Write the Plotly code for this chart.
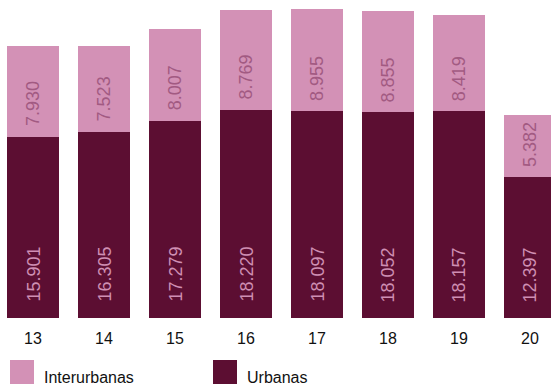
import plotly.graph_objects as go

# Accidentes por año (últimos dos dígitos del año)
anios = ["13", "14", "15", "16", "17", "18", "19", "20"]
urbanas = [15901, 16305, 17279, 18220, 18097, 18052, 18157, 12397]
interurbanas = [7930, 7523, 8007, 8769, 8955, 8855, 8419, 5382]

nombre_urb = "Urbanas"
nombre_inter = "Interurbanas"

COLOR_URB = "#5c0e32"
COLOR_INTER = "#d391b6"
TXT_URB = "#cf8fb3"
TXT_INTER = "#a25a82"

W, H = 551, 387
MB = 69
plot_h = H - MB


def fmt(v):
    return f"{v:,}".replace(",", ".")


fig = go.Figure()
fig.add_trace(go.Bar(x=anios, y=urbanas, name=nombre_urb,
                     marker=dict(color=COLOR_URB, line=dict(width=0)),
                     hoverinfo="skip"))
fig.add_trace(go.Bar(x=anios, y=interurbanas, name=nombre_inter,
                     marker=dict(color=COLOR_INTER, line=dict(width=0)),
                     hoverinfo="skip"))

annotations = []
# value labels, rotated, anchored at the base of each segment
# (category positions are given by index on the category axis)
for k, (u, i) in enumerate(zip(urbanas, interurbanas)):
    annotations.append(dict(x=k, y=0, xref="x", yref="y", text=fmt(u),
                            textangle=-90, showarrow=False, yanchor="bottom",
                            xanchor="center", yshift=14,
                            font=dict(size=18, color=TXT_URB)))
    annotations.append(dict(x=k, y=u, xref="x", yref="y", text=fmt(i),
                            textangle=-90, showarrow=False, yanchor="bottom",
                            xanchor="center", yshift=8,
                            font=dict(size=18, color=TXT_INTER)))

# custom legend below the plot
def py(pix):
    return (plot_h - pix) / plot_h

shapes = []
legend_items = [(nombre_inter, COLOR_INTER, 10), (nombre_urb, COLOR_URB, 213)]
for name, col, x0 in legend_items:
    shapes.append(dict(type="rect", xref="paper", yref="paper",
                       x0=x0 / W, x1=(x0 + 24) / W, y0=py(384), y1=py(360),
                       fillcolor=col, line=dict(width=0)))
    annotations.append(dict(x=(x0 + 32) / W, y=py(377), xref="paper", yref="paper",
                            text=name, showarrow=False, xanchor="left",
                            yanchor="middle", font=dict(size=16, color="#111111")))

fig.update_layout(
    width=W, height=H,
    margin=dict(l=0, r=0, t=0, b=MB, pad=0),
    barmode="stack",
    bargap=0.268,
    showlegend=False,
    paper_bgcolor="white",
    plot_bgcolor="white",
    font=dict(family="Liberation Sans, Arial, sans-serif"),
    xaxis=dict(type="category", range=[-0.465, 7.296], ticks="",
               showgrid=False, showline=False, zeroline=False,
               ticklabelstandoff=9,
               tickfont=dict(size=16, color="#111111")),
    yaxis=dict(range=[0, 27860], visible=False, showgrid=False),
    annotations=annotations,
    shapes=shapes,
)

fig.write_html("out.html")
